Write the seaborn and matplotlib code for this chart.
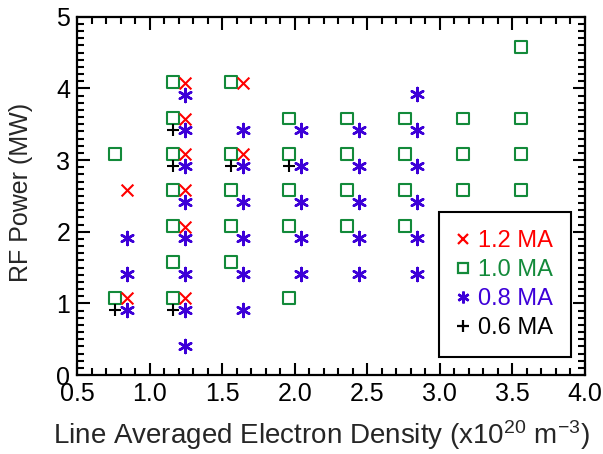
import matplotlib
matplotlib.use("Agg")
import matplotlib.pyplot as plt
from matplotlib.lines import Line2D
from matplotlib.ticker import MultipleLocator
import seaborn as sns

# 1.2 MA plasma current
ne_12 = [0.84, 0.84, 1.24, 1.24, 1.24, 1.24, 1.24, 1.24, 1.64, 1.64]
prf_12 = [2.58, 1.07, 4.08, 3.58, 3.08, 2.58, 2.07, 1.07, 4.08, 3.08]

# 1.0 MA plasma current
ne_10 = [0.76, 0.76,
         1.16, 1.16, 1.16, 1.16, 1.16, 1.16, 1.16,
         1.56, 1.56, 1.56, 1.56, 1.56,
         1.96, 1.96, 1.96, 1.96, 1.96,
         2.36, 2.36, 2.36, 2.36,
         2.76, 2.76, 2.76, 2.76,
         3.16, 3.16, 3.16,
         3.56, 3.56, 3.56, 3.56]
prf_10 = [3.08, 1.07,
          4.09, 3.59, 3.08, 2.58, 2.08, 1.58, 1.07,
          4.09, 3.08, 2.58, 2.08, 1.58,
          3.58, 3.08, 2.58, 2.08, 1.07,
          3.58, 3.08, 2.58, 2.08,
          3.58, 3.08, 2.58, 2.08,
          3.58, 3.08, 2.58,
          4.58, 3.58, 3.08, 2.58]

# 0.8 MA plasma current
ne_08 = [0.84, 0.84, 0.84,
         1.24, 1.24, 1.24, 1.24, 1.24, 1.24, 1.24, 1.24,
         1.64, 1.64, 1.64, 1.64, 1.64, 1.64,
         2.04, 2.04, 2.04, 2.04, 2.04,
         2.44, 2.44, 2.44, 2.44, 2.44,
         2.84, 2.84, 2.84, 2.84, 2.84, 2.84]
prf_08 = [1.91, 1.41, 0.91,
          3.91, 3.42, 2.92, 2.42, 1.91, 1.41, 0.91, 0.41,
          3.42, 2.92, 2.42, 1.91, 1.41, 0.91,
          3.42, 2.92, 2.42, 1.91, 1.41,
          3.42, 2.92, 2.42, 1.91, 1.41,
          3.92, 3.42, 2.92, 2.42, 1.91, 1.41]

# 0.6 MA plasma current
ne_06 = [0.76, 1.16, 1.16, 1.16, 1.56, 1.96]
prf_06 = [0.91, 3.42, 2.92, 0.91, 2.92, 2.92]

labels = ["1.2 MA", "1.0 MA", "0.8 MA", "0.6 MA"]
colors = ["#ff0000", "#138a3a", "#3d00d8", "#000000"]

x_ticks = [0.5, 1.0, 1.5, 2.0, 2.5, 3.0, 3.5, 4.0]
y_ticks = [0, 1, 2, 3, 4, 5]

sns.set_style("ticks")
plt.rcParams["font.family"] = ["Liberation Sans", "DejaVu Sans"]
plt.rcParams["mathtext.fontset"] = "custom"
plt.rcParams["mathtext.rm"] = "Liberation Sans"
plt.rcParams["mathtext.it"] = "Liberation Sans"
plt.rcParams["mathtext.default"] = "regular"

fig = plt.figure(figsize=(6.03, 4.54), dpi=100)
ax = fig.add_axes([0.128, 0.174, 0.842, 0.789])

star = (6, 2, 0)
sns.scatterplot(x=ne_12, y=prf_12, marker="x", color=colors[0], s=72,
                linewidth=1.5, ax=ax, zorder=4)
sns.scatterplot(x=ne_10, y=prf_10, marker="s", s=72, facecolor="none",
                edgecolor=colors[1], linewidth=1.5, ax=ax, zorder=3)
sns.scatterplot(x=ne_08, y=prf_08, marker=star, color=colors[2], s=88,
                linewidth=1.8, ax=ax, zorder=5)
sns.scatterplot(x=ne_06, y=prf_06, marker="+", color=colors[3], s=66,
                linewidth=1.5, ax=ax, zorder=6)

ax.set_xlim(0.5, 4.0)
ax.set_ylim(0, 5)
ax.set_xticks(x_ticks)
ax.set_xticklabels([f"{v:.1f}" for v in x_ticks])
ax.set_yticks(y_ticks)
ax.set_yticklabels([str(v) for v in y_ticks])
ax.xaxis.set_minor_locator(MultipleLocator(0.1))
ax.yaxis.set_minor_locator(MultipleLocator(0.1))
ax.tick_params(which="both", direction="in", top=True, right=True,
               width=1.5, colors="black", labelsize=18, pad=5)
ax.tick_params(which="major", length=9)
ax.tick_params(which="minor", length=5)
for sp in ax.spines.values():
    sp.set_linewidth(1.6)
    sp.set_color("black")

ax.set_xlabel(r"Line Averaged Electron Density (x10$^{20}$ m$^{-3}$)",
              fontsize=20)
ax.xaxis.set_label_coords(0.481, -0.12)
ax.set_ylabel("RF Power (MW)", fontsize=18)
ax.yaxis.set_label_coords(-0.088, 0.511)

handles = [
    Line2D([], [], ls="none", marker="x", color=colors[0], ms=7, mew=1.6),
    Line2D([], [], ls="none", marker="s", mfc="none", mec=colors[1], ms=7, mew=1.6),
    Line2D([], [], ls="none", marker=star, color=colors[2], ms=8.5, mew=1.8),
    Line2D([], [], ls="none", marker="+", color=colors[3], ms=8, mew=1.6),
]
leg = ax.legend(handles, labels, loc="lower right",
                bbox_to_anchor=(0.972, 0.051), fontsize=17,
                labelcolor=colors, frameon=True, fancybox=False,
                handlelength=0.5, handletextpad=0.4, labelspacing=0.3,
                borderpad=0.75, borderaxespad=0.0)
leg.get_frame().set_edgecolor("black")
leg.get_frame().set_linewidth(1.5)
leg.get_frame().set_alpha(1)

fig.savefig("out.png", dpi=100)
